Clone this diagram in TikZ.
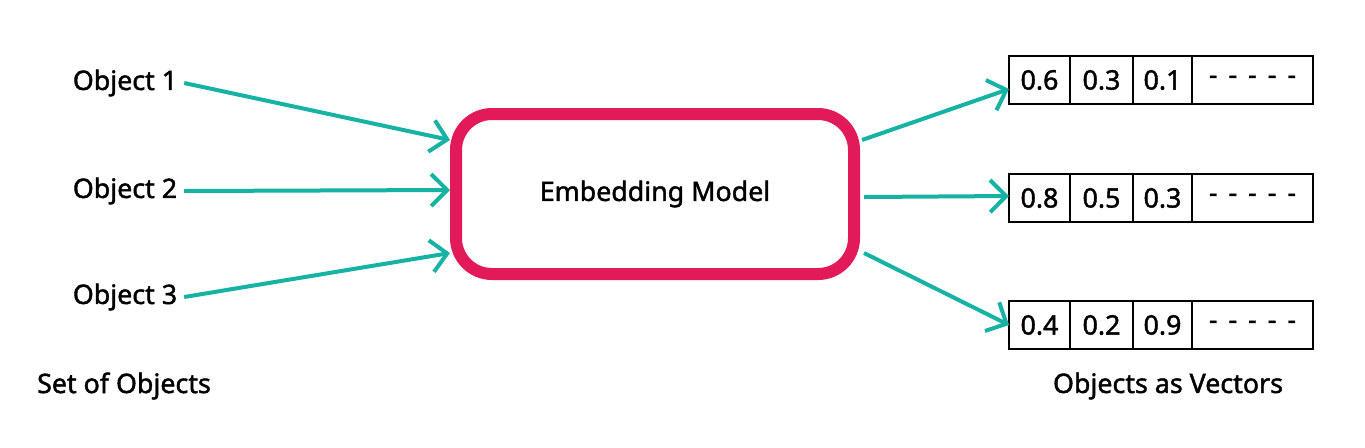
\documentclass[tikz,border=0pt]{standalone}
\usepackage{fontspec}
\setmainfont{Noto Sans}[FakeBold=1.6]
\usetikzlibrary{positioning, arrows.meta}
\definecolor{flowteal}{HTML}{16B2A4}
\definecolor{modelred}{HTML}{E31A5A}
\newcommand{\dashfill}{-\hspace{5.5pt}-\hspace{5.5pt}-\hspace{5.5pt}-\hspace{5.5pt}-}

\begin{document}
\begin{tikzpicture}[x=0.5pt,y=-0.5pt,node distance=0pt,
	font=\fontsize{13.4}{16}\selectfont,
	flow/.style={flowteal,line width=2pt,-{Straight Barb[length=8pt,width=16pt,line width=2pt]}},
	model/.style={draw=modelred,line width=6pt,rounded corners=18pt,minimum width=199pt,minimum height=80pt},
	cell/.style={draw,line width=1pt,minimum height=24pt,inner sep=0pt,outer sep=0pt}]
			\useasboundingbox (0,0) rectangle (1365,447);
			\node (o1) at (125,83)                {Object 1};
			\node (o2) at (125,191)               {Object 2};
			\node (o3) at (125,297)               {Object 3};
			\node (set) at (124,386)              {Set of Objects};
			\node[model] (m) at (655,194)         {Embedding Model};
			% vectors
			\node[cell,minimum width=30.5pt,anchor=west] (a1) at (1009,80) {0.6};
			\node[cell,minimum width=31.5pt] (a2) [right=of a1] {0.3};
			\node[cell,minimum width=29.5pt] (a3) [right=of a2] {0.1};
			\node[cell,minimum width=60.5pt] (a4) [right=of a3] {\dashfill};
			\node[cell,minimum width=30.5pt,anchor=west] (b1) at (1009,198) {0.8};
			\node[cell,minimum width=31.5pt] (b2) [right=of b1] {0.5};
			\node[cell,minimum width=29.5pt] (b3) [right=of b2] {0.3};
			\node[cell,minimum width=60.5pt] (b4) [right=of b3] {\dashfill};
			\node[cell,minimum width=30.5pt,anchor=west] (c1) at (1009,325) {0.4};
			\node[cell,minimum width=31.5pt] (c2) [right=of c1] {0.2};
			\node[cell,minimum width=29.5pt] (c3) [right=of c2] {0.9};
			\node[cell,minimum width=60.5pt] (c4) [right=of c3] {\dashfill};
			\node (vec) at (1168,386)             {Objects as Vectors};
			\path[flow] (o1.east) edge ([yshift=27pt]m.west)
						(o2.east) edge ([yshift=2pt]m.west)
						(o3.east) edge ([yshift=-29.5pt]m.west)
						([yshift=27pt,xshift=1pt]m.east) edge ([yshift=-4.5pt]a1.west)
						([yshift=-1.5pt,xshift=2pt]m.east) edge ([yshift=1pt]b1.west)
						([yshift=-29.5pt,xshift=2pt]m.east) edge (c1.west)
						;
	\end{tikzpicture}
\end{document}
